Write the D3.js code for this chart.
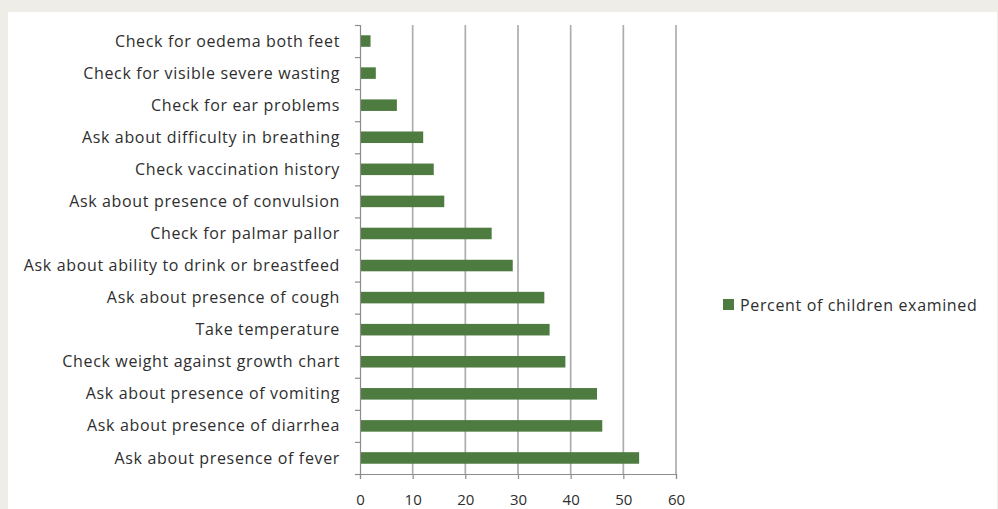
<!DOCTYPE html>
<html>
<head>
<meta charset="utf-8">
<script src="https://cdn.jsdelivr.net/npm/d3@7"></script>
<style>
  html, body { margin: 0; padding: 0; background: #eeede8; }
  svg { display: block; }
</style>
</head>
<body>
<svg id="chart" width="998" height="509"></svg>
<script>
const categories = [
  "Check for oedema both feet",
  "Check for visible severe wasting",
  "Check for ear problems",
  "Ask about difficulty in breathing",
  "Check vaccination history",
  "Ask about presence of convulsion",
  "Check for palmar pallor",
  "Ask about ability to drink or breastfeed",
  "Ask about presence of cough",
  "Take temperature",
  "Check weight against growth chart",
  "Ask about presence of vomiting",
  "Ask about presence of diarrhea",
  "Ask about presence of fever"
];
const values = [2, 3, 7, 12, 14, 16, 25, 29, 35, 36, 39, 45, 46, 53];
const xTicks = [0, 10, 20, 30, 40, 50, 60];
const seriesName = "Percent of children examined";

(function () {
const svg = d3.select("#chart");
const W = 998, H = 509;
const font = "'Open Sans', 'Noto Sans', sans-serif";
const textColor = "#2e2e2e";
const barColor = "#4e7b3f";
const gridColor = "#adadad";
const labelSize = 16, labelSpacing = 0.65;

// white panel
svg.append("rect").attr("x", 8).attr("y", 12).attr("width", W - 9).attr("height", H - 12).attr("fill", "#ffffff");

const pLeft = 360, pRight = 676, pTop = 25, pBottom = 474;

const x = d3.scaleLinear().domain([0, 60]).range([pLeft, pRight]);
const y = d3.scaleBand().domain(categories).range([pTop, pBottom]).paddingInner(0.64).paddingOuter(0.32);
const yTickScale = d3.scaleLinear().domain([0, categories.length]).range([pTop, pBottom]);

// gridlines
svg.append("g").selectAll("line").data(xTicks.filter(d => d > 0)).join("line")
  .attr("x1", d => x(d)).attr("x2", d => x(d))
  .attr("y1", pTop).attr("y2", pBottom)
  .attr("stroke", gridColor).attr("stroke-width", 1.7);

// bars
svg.append("g").selectAll("rect").data(categories).join("rect")
  .attr("x", x(0))
  .attr("y", d => y(d))
  .attr("width", (d, i) => x(values[i]) - x(0))
  .attr("height", y.bandwidth())
  .attr("fill", barColor);

// x axis
const xAxis = svg.append("g").attr("transform", `translate(0,${pBottom})`)
  .call(d3.axisBottom(x).tickValues(xTicks).tickSize(5).tickPadding(15).tickFormat(d3.format("d")));
xAxis.select(".domain").attr("stroke", "#8c8c8c").attr("stroke-width", 1.2);
xAxis.selectAll(".tick line").attr("stroke", "#8c8c8c").attr("stroke-width", 1.2);
xAxis.selectAll("text").attr("font-family", font).attr("font-size", 15).attr("fill", textColor);

// y axis ticks (category boundaries)
const yAxisG = svg.append("g").attr("transform", `translate(${pLeft},0)`)
  .call(d3.axisLeft(yTickScale).ticks(categories.length).tickSize(5).tickFormat(""));
yAxisG.select(".domain").attr("stroke", "#8c8c8c").attr("stroke-width", 1.2);
yAxisG.selectAll(".tick line").attr("stroke", "#8c8c8c").attr("stroke-width", 1.2);

// category labels
svg.append("g").selectAll("text").data(categories).join("text")
  .attr("x", 340)
  .attr("y", d => y(d) + y.bandwidth() / 2)
  .attr("dy", "0.35em")
  .attr("text-anchor", "end")
  .attr("font-family", font)
  .attr("font-size", labelSize)
  .attr("letter-spacing", labelSpacing)
  .attr("fill", textColor)
  .text(d => d);

// legend
const lg = svg.append("g").attr("transform", "translate(723,299)");
lg.append("rect").attr("width", 11).attr("height", 11).attr("fill", barColor);
lg.append("text").attr("x", 17).attr("y", 6).attr("dy", "0.35em")
  .attr("font-family", font).attr("font-size", labelSize)
  .attr("letter-spacing", labelSpacing).attr("fill", textColor)
  .text(seriesName);
})();
</script>
</body>
</html>
